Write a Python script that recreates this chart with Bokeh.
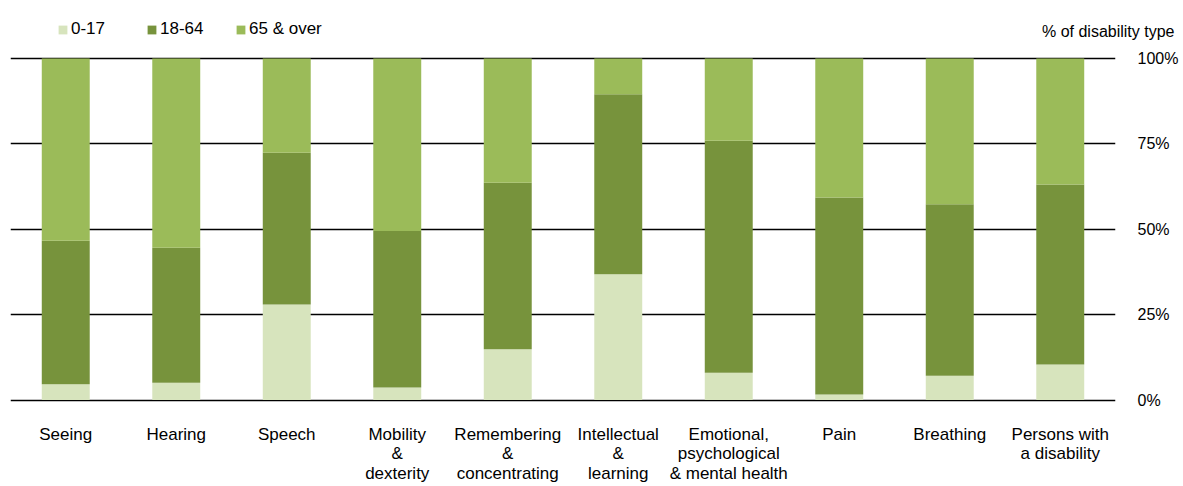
from bokeh.plotting import figure
from bokeh.models import (FactorRange, Range1d, Legend, LegendItem, Label,
                          FixedTicker, ColumnDataSource)
from bokeh.embed import file_html
from bokeh.resources import INLINE

# ---- data ----
categories = ["Seeing", "Hearing", "Speech", "Mobility\n&\ndexterity",
              "Remembering\n&\nconcentrating", "Intellectual\n&\nlearning",
              "Emotional,\npsychological\n& mental health", "Pain", "Breathing",
              "Persons with\na disability"]
age_0_17 = [4.6, 5.1, 28.0, 3.7, 14.9, 36.8, 8.0, 1.6, 7.1, 10.4]
age_18_64 = [42.0, 39.5, 44.4, 45.8, 48.7, 52.7, 67.9, 57.7, 50.2, 52.7]
age_65_over = [53.4, 55.4, 27.6, 50.5, 36.4, 10.5, 24.1, 40.7, 42.7, 36.9]
series_names = ["0-17", "18-64", "65 & over"]
series_colors = ["#D7E4BD", "#77933C", "#9BBB59"]
y_ticks = [0, 25, 50, 75, 100]
y_tick_labels = ["0%", "25%", "50%", "75%", "100%"]
axis_title = "% of disability type"

FONT = "Liberation Sans"
FS = "17px"

src = ColumnDataSource(dict(cat=categories, a=age_0_17, b=age_18_64, c=age_65_over))

# frame extends above 100% so the legend sits inside it
p = figure(width=1183, height=486,
           x_range=FactorRange(factors=categories, range_padding=0),
           y_range=Range1d(-1, 111.67),
           y_axis_location="right",
           output_backend="svg", toolbar_location=None,
           min_border_left=10, min_border_right=68,
           min_border_top=18, min_border_bottom=79,
           outline_line_color=None,
           background_fill_color="white", border_fill_color="white")

renderers = p.vbar_stack(["a", "b", "c"], x="cat", width=0.434,
                         color=series_colors, line_color=None, source=src)

legend = Legend(items=[LegendItem(label=n, renderers=[r])
                       for n, r in zip(series_names, renderers)],
                orientation="horizontal", location=(47, 364),
                padding=0, margin=0, spacing=17,
                glyph_width=11, glyph_height=11, label_standoff=3,
                label_width=58, label_height=18,
                label_text_font=FONT, label_text_font_size=FS,
                label_text_color="black",
                border_line_color=None, background_fill_alpha=0)
p.add_layout(legend, "center")

# grid
p.xgrid.grid_line_color = None
p.ygrid.ticker = FixedTicker(ticks=y_ticks)
p.ygrid.grid_line_color = "black"
p.ygrid.grid_line_width = 1.5

# x axis
p.xaxis.axis_line_color = None
p.xaxis.major_tick_line_color = None
p.xaxis.minor_tick_line_color = None
p.xaxis.major_tick_out = 0
p.xaxis.major_label_standoff = 21
p.xaxis.major_label_text_font = FONT
p.xaxis.major_label_text_font_size = FS
p.xaxis.major_label_text_line_height = 1.05
p.xaxis.major_label_text_color = "black"
p.xaxis.major_label_orientation = "horizontal"

# y axis (right)
p.yaxis.ticker = FixedTicker(ticks=y_ticks)
p.yaxis.major_label_overrides = {t: l for t, l in zip(y_ticks, y_tick_labels)}
p.yaxis.axis_line_color = None
p.yaxis.major_tick_line_color = None
p.yaxis.minor_tick_line_color = None
p.yaxis.major_tick_out = 0
p.yaxis.major_label_standoff = 22
p.yaxis.major_label_text_font = FONT
p.yaxis.major_label_text_font_size = "16px"
p.yaxis.major_label_text_color = "black"

title = Label(x=len(categories), y=100, x_offset=59, y_offset=27,
              text=axis_title, text_align="right", text_baseline="middle",
              text_font=FONT, text_font_size="16px", text_color="black")
p.add_layout(title, "above")

open("out.html", "w").write(file_html(p, INLINE))
